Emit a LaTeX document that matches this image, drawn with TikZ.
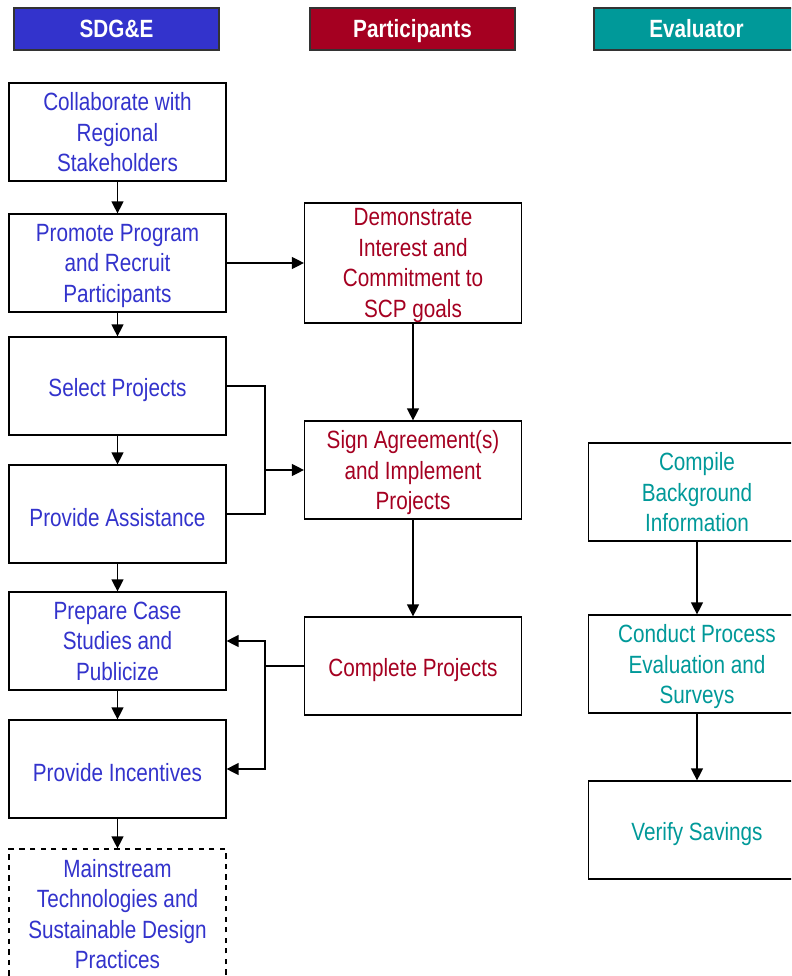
\documentclass[tikz,border=0pt]{standalone}
\usepackage{fontspec}
\setmainfont[FakeStretch=0.83]{Liberation Sans}
\usetikzlibrary{arrows.meta}
\definecolor{sdgeblue}{HTML}{3333CC}
\definecolor{partred}{HTML}{A50021}
\definecolor{evalteal}{HTML}{009999}
\begin{document}
\begin{tikzpicture}[x=0.02cm,y=-0.02cm,line width=0.7pt,
  >={Triangle[length=2.4mm,width=2.4mm]},
  headbox/.style={rectangle,draw=black!80,text=white,minimum width=4.1cm,minimum height=0.84cm,inner sep=0pt,text height=10.2pt,text depth=0pt,font=\fontsize{14.2}{17}\selectfont\bfseries},
  stepbox/.style={rectangle,draw=black,fill=white,minimum width=4.34cm,minimum height=1.96cm,align=center,inner sep=1pt,execute at begin node={\rule{0pt}{14.6pt}},font=\fontsize{14.2}{17.4}\selectfont},
  multibox/.style={stepbox,text depth=-2pt}]

\clip (0,0) rectangle (791,976);

\node[headbox,fill=sdgeblue] (h1) at (116.5,29) {SDG\&E};
\node[headbox,fill=partred] (h2) at (412.5,29) {Participants};
\node[headbox,fill=evalteal] (h3) at (696.5,29) {Evaluator};

\node[multibox,text=sdgeblue] (collab) at (117.5,132) {Collaborate with\\Regional\\Stakeholders};
\node[multibox,text=sdgeblue] (promote) at (117.5,263) {Promote Program\\and Recruit\\Participants};
\node[stepbox,text=sdgeblue] (select) at (117.5,386) {Select Projects};
\node[stepbox,text=sdgeblue] (assist) at (117.5,514) {Provide Assistance};
\node[multibox,text=sdgeblue] (prepare) at (117.5,641) {Prepare Case\\Studies and\\Publicize};
\node[stepbox,text=sdgeblue] (incent) at (117.5,769) {Provide Incentives};
\node[multibox,text=sdgeblue,dashed,minimum height=2.6cm] (mainstr) at (117.5,914) {Mainstream\\Technologies and\\Sustainable Design\\Practices};

\node[multibox,text=partred,minimum height=2.4cm] (demo) at (413,263) {Demonstrate\\Interest and\\Commitment to\\SCP goals};
\node[multibox,text=partred] (sign) at (413,470) {Sign Agreement(s)\\and Implement\\Projects};
\node[stepbox,text=partred] (compl) at (413,666) {Complete Projects};

\node[multibox,text=evalteal] (compile) at (697,492) {Compile\\Background\\Information};
\node[multibox,text=evalteal] (conduct) at (697,664) {Conduct Process\\Evaluation and\\Surveys};
\node[stepbox,text=evalteal] (verify) at (697,830) {Verify Savings};

\coordinate (jsel) at (265,470);
\coordinate (jcomp) at (265,666);

\draw[->] (collab) -- (promote);
\draw[->] (promote) -- (select);
\draw[->] (select) -- (assist);
\draw[->] (assist) -- (prepare);
\draw[->] (prepare) -- (incent);
\draw[->] (incent) -- (mainstr);
\draw[->] (promote) -- (demo);
\draw[->] (demo) -- (sign);
\draw[->] (sign) -- (compl);
\draw (select.east) -| (jsel);
\draw (assist.east) -| (jsel);
\draw[->] (jsel) -- (sign.west);
\draw (compl.west) -- (jcomp);
\draw[->] (jcomp) |- (prepare.east);
\draw[->] (jcomp) |- (incent.east);
\draw[->] (compile) -- (conduct);
\draw[->] (conduct) -- (verify);
%\draw[->] (verify) -- (compl);

\end{tikzpicture}
\end{document}
